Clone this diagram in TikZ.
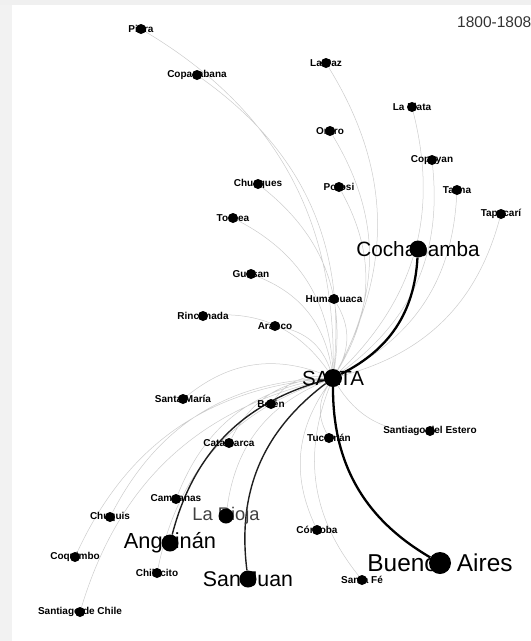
\documentclass[tikz,border=0pt]{standalone}
\usepackage{fontspec}
\setmainfont{Liberation Sans}
\usetikzlibrary{backgrounds}

\tikzset{
  town/.style={circle, fill=black, inner sep=0pt, minimum size=10pt},
  bigtown/.style={town, minimum size=#1},
  townname/.style={inner sep=0pt, font=\fontsize{10}{12}\selectfont\bfseries},
  cityname/.style={inner sep=0pt, font=\fontsize{#1}{#1}\selectfont},
  link/.style={draw=black!20, line width=0.5pt, bend right=30},
  trade/.style={draw=black!88, line width=1.4pt, bend right=30},
  maintrade/.style={draw=black, line width=2.3pt, bend right=30},
}

\begin{document}
\begin{tikzpicture}[x=1pt, y=-1pt]

  \useasboundingbox (0,0) rectangle (531,641);

  % Period
  \node[cityname=15.5, text=black!80, anchor=west] (period) at (457,22) {1800-1808};

  % Place names, north
  \node[townname] (tPiura)      at (141,29)  {Piura};
  \node[townname] (tCopacabana) at (197,75)  {Copacabana};
  \node[townname] (tLaPaz)      at (326,63)  {La Paz};
  \node[townname] (tLaPlata)    at (412,107) {La Plata};
  \node[townname] (tOruro)      at (330,131) {Oruro};
  \node[townname] (tCopayan)    at (432,160) {Copayan};
  \node[townname] (tChuaques)   at (258,184) {Chuaques};
  \node[townname] (tPotosi)     at (339,187) {Potosi};
  \node[townname] (tTacna)      at (457,190) {Tacna};
  \node[townname] (tTapacari)   at (501,214) {Tapacarí};
  \node[townname] (tTornea)     at (233,218) {Tornea};
  \node[cityname=20.7] (tCochabamba) at (418,249) {Cochabamba};
  \node[townname] (tGuasan)     at (251,274) {Guasan};
  \node[townname] (tHumahuaca)  at (334,299) {Humahuaca};
  \node[townname] (tRinconada)  at (203,316) {Rinconada};
  \node[townname] (tArauco)     at (275,326) {Arauco};

  % Place names, centre and south
  \node[cityname=20.5] (tSalta) at (333,378) {SALTA};
  \node[townname] (tSantaMaria) at (183,399) {Santa María};
  \node[townname] (tBelen)      at (271,404) {Belén};
  \node[townname] (tCatamarca)  at (229,443) {Catamarca};
  \node[townname] (tCampanas)   at (176,499) {Campanas};
  \node[townname] (tChuquis)    at (110,517) {Chuquis};
  \node[cityname=18.3, text=black!75] (tLaRioja) at (226,516) {La Rioja};
  \node[cityname=21.8] (tAnguinan) at (170,543) {Anguinán};
  \node[townname] (tCoquimbo)   at (75,557)  {Coquimbo};
  \node[townname] (tChilecito)  at (157,573) {Chilecito};
  \node[cityname=21.3] (tSanJuan) at (248,579) {San Juan};
  \node[townname] (tSantiagoChile) at (80,612) {Santiago de Chile};
  \node[townname] (tTucuman)    at (329,438) {Tucumán};
  \node[townname] (tEstero)     at (430,431) {Santiago del Estero};
  \node[townname] (tCordoba)    at (317,530) {Córdoba};
  \node[townname] (tSantaFe)    at (362,580) {Santa Fé};
  \node[cityname=24.4] (tBuenosAires) at (440,563) {Buenos Aires};

  % Dots on top of the names
  \node[town] (piura)      at (tPiura.center)      {};
  \node[town] (copacabana) at (tCopacabana.center) {};
  \node[town] (lapaz)      at (tLaPaz.center)      {};
  \node[town] (laplata)    at (tLaPlata.center)    {};
  \node[town] (oruro)      at (tOruro.center)      {};
  \node[town] (copayan)    at (tCopayan.center)    {};
  \node[town] (chuaques)   at (tChuaques.center)   {};
  \node[town] (potosi)     at (tPotosi.center)     {};
  \node[town] (tacna)      at (tTacna.center)      {};
  \node[town] (tapacari)   at (tTapacari.center)   {};
  \node[town] (tornea)     at (tTornea.center)     {};
  \node[bigtown=17pt] (cochabamba) at (tCochabamba.center) {};
  \node[town] (guasan)     at (tGuasan.center)     {};
  \node[town] (humahuaca)  at (tHumahuaca.center)  {};
  \node[town] (rinconada)  at (tRinconada.center)  {};
  \node[town] (arauco)     at (tArauco.center)     {};
  \node[bigtown=18pt] (salta) at (tSalta.center) {};
  \node[town] (santamaria) at (tSantaMaria.center) {};
  \node[town] (belen)      at (tBelen.center)      {};
  \node[town] (catamarca)  at (tCatamarca.center)  {};
  \node[town] (campanas)   at (tCampanas.center)   {};
  \node[town] (chuquis)    at (tChuquis.center)    {};
  \node[bigtown=15pt] (larioja)  at (tLaRioja.center)  {};
  \node[bigtown=17pt] (anguinan) at (tAnguinan.center) {};
  \node[town] (coquimbo)   at (tCoquimbo.center)   {};
  \node[town] (chilecito)  at (tChilecito.center)  {};
  \node[bigtown=17pt] (sanjuan)  at (tSanJuan.center)  {};
  \node[town] (santiagochile) at (tSantiagoChile.center) {};
  \node[town] (tucuman)    at (tTucuman.center)    {};
  \node[town] (estero)     at (tEstero.center)     {};
  \node[town] (cordoba)    at (tCordoba.center)    {};
  \node[town] (santafe)    at (tSantaFe.center)    {};
  \node[bigtown=22pt] (buenosaires) at (tBuenosAires.center) {};

  \begin{pgfonlayer}{background}
    % Page frame
    \fill[black!6] (0,0) rectangle (531,5);
    \fill[black!5] (0,5) rectangle (12,641);

    % Light links out of Salta
    \draw[link] (salta) to (piura)   (salta) to (copacabana) (salta) to (lapaz)
                (salta) to (laplata) (salta) to (oruro)      (salta) to (copayan)
                (salta) to (chuaques) (salta) to (potosi)    (salta) to (tacna)
                (salta) to (tapacari) (salta) to (tornea)    (salta) to (guasan)
                (salta) to (humahuaca) (salta) to (rinconada) (salta) to (arauco);
    \draw[link] (salta) to (santamaria) (salta) to (belen)   (salta) to (catamarca)
                (salta) to (campanas)   (salta) to (chuquis) (salta) to (larioja)
                (salta) to (coquimbo)   (salta) to (chilecito)
                (salta) to (santiagochile) (salta) to (tucuman) (salta) to (estero)
                (salta) to (cordoba)    (salta) to (santafe);

    % Heavy links
    \draw[trade] (salta) to (anguinan);
    \draw[trade] (salta) to (sanjuan);
    \draw[maintrade] (salta) to (cochabamba);
    \draw[maintrade] (salta) to (buenosaires);
  \end{pgfonlayer}

\end{tikzpicture}
\end{document}
